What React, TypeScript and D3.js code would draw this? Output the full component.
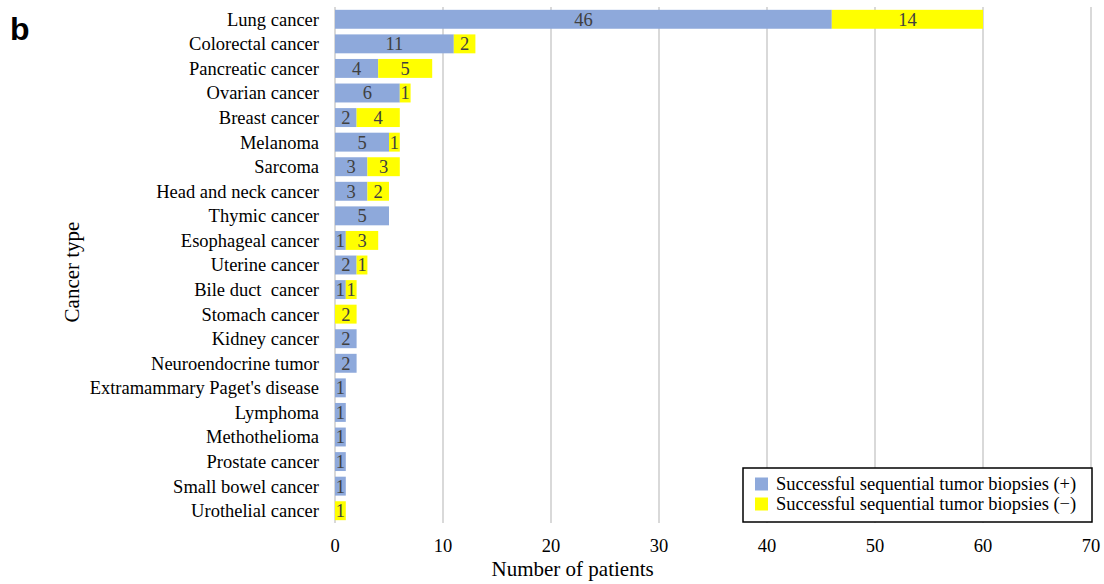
import React, { useEffect, useRef } from "react";
import * as d3 from "d3";

const categories = [
  "Lung cancer", "Colorectal cancer", "Pancreatic cancer", "Ovarian cancer", "Breast cancer",
  "Melanoma", "Sarcoma", "Head and neck cancer", "Thymic cancer", "Esophageal cancer",
  "Uterine cancer", "Bile duct  cancer", "Stomach cancer", "Kidney cancer", "Neuroendocrine tumor",
  "Extramammary Paget's disease", "Lymphoma", "Methothelioma", "Prostate cancer",
  "Small bowel cancer", "Urothelial cancer",
];
const positive = [46, 11, 4, 6, 2, 5, 3, 3, 5, 1, 2, 1, 0, 2, 2, 1, 1, 1, 1, 1, 0];
const negative = [14, 2, 5, 1, 4, 1, 3, 2, 0, 3, 1, 1, 2, 0, 0, 0, 0, 0, 0, 0, 1];
const xTicks = [0, 10, 20, 30, 40, 50, 60, 70];
const seriesNames = ["Successful sequential tumor biopsies (+)", "Successful sequential tumor biopsies (\u2212)"];
const colors = ["#8EA9DB", "#FFFF00"];

export default function App() {
  const ref = useRef<SVGSVGElement>(null);
  useEffect(() => {
    const svg = d3.select(ref.current);
    svg.selectAll("*").remove();
    const x = d3.scaleLinear().domain([0, 70]).range([335, 1091]);
    const y = d3.scaleBand<string>().domain(categories).range([7, 523]).paddingInner(0.23).paddingOuter(0.115);
    const font = "'Liberation Serif', 'Times New Roman', serif";
    const fs = 18.5;

    svg.append("g").selectAll("line").data(xTicks).join("line")
      .attr("x1", d => x(d)).attr("x2", d => x(d)).attr("y1", 7).attr("y2", 523)
      .attr("stroke", "#d9d9d9").attr("stroke-width", 2);

    const data = categories.map((c, i) => ({ c, p: positive[i], n: negative[i] }));
    const g = svg.append("g");
    g.selectAll("rect.p").data(data.filter(d => d.p > 0)).join("rect")
      .attr("x", x(0)).attr("y", d => y(d.c)!).attr("width", d => x(d.p) - x(0)).attr("height", y.bandwidth())
      .attr("fill", colors[0]);
    g.selectAll("rect.n").data(data.filter(d => d.n > 0)).join("rect")
      .attr("x", d => x(d.p)).attr("y", d => y(d.c)!).attr("width", d => x(d.p + d.n) - x(d.p)).attr("height", y.bandwidth())
      .attr("fill", colors[1]);
    const lbl = (arr: { c: string; v: number; s: number }[]) =>
      g.append("g").selectAll("text").data(arr).join("text")
        .attr("x", d => x(d.s + d.v / 2)).attr("y", d => y(d.c)! + y.bandwidth() / 2)
        .attr("dy", "0.35em").attr("text-anchor", "middle").attr("font-family", font).attr("font-size", fs)
        .attr("fill", "#404040").text(d => String(d.v));
    lbl(data.filter(d => d.p > 0).map(d => ({ c: d.c, v: d.p, s: 0 })));
    lbl(data.filter(d => d.n > 0).map(d => ({ c: d.c, v: d.n, s: d.p })));

    svg.append("g").selectAll("text").data(categories).join("text")
      .attr("x", 319).attr("y", d => y(d)! + y.bandwidth() / 2).attr("dy", "0.35em")
      .attr("text-anchor", "end").attr("font-family", font).attr("font-size", fs).attr("fill", "#000")
      .style("white-space", "pre").text(d => d);

    svg.append("g").selectAll("text").data(xTicks).join("text")
      .attr("x", d => x(d)).attr("y", 546).attr("dy", "0.35em").attr("text-anchor", "middle")
      .attr("font-family", font).attr("font-size", fs).attr("fill", "#000").text(d => String(d));

    svg.append("text").attr("x", x(22)).attr("y", 569).attr("dy", "0.35em").attr("text-anchor", "middle")
      .attr("font-family", font).attr("font-size", 21).text("Number of patients");
    svg.append("text").attr("transform", "translate(72,272) rotate(-90)").attr("dy", "0.35em")
      .attr("text-anchor", "middle").attr("font-family", font).attr("font-size", 21).text("Cancer type");

    svg.append("text").attr("x", 10).attr("y", 40).attr("font-family", "'Liberation Sans', Arial, sans-serif")
      .attr("font-weight", "bold").attr("font-size", 32).text("b");

    const lg = svg.append("g");
    lg.append("rect").attr("x", 743).attr("y", 468).attr("width", 349).attr("height", 54)
      .attr("fill", "#fff").attr("stroke", "#000").attr("stroke-width", 1.5);
    seriesNames.forEach((s, i) => {
      const yy = 484 + i * 20;
      lg.append("rect").attr("x", 755).attr("y", yy - 6.5).attr("width", 13).attr("height", 13).attr("fill", colors[i]);
      lg.append("text").attr("x", 776).attr("y", yy).attr("dy", "0.35em").attr("font-family", font)
        .attr("font-size", fs).text(s);
    });
  }, []);
  return <svg ref={ref} width={1104} height={584} style={{ position: "absolute", left: 0, top: 0, background: "#fff" }} />;
}
